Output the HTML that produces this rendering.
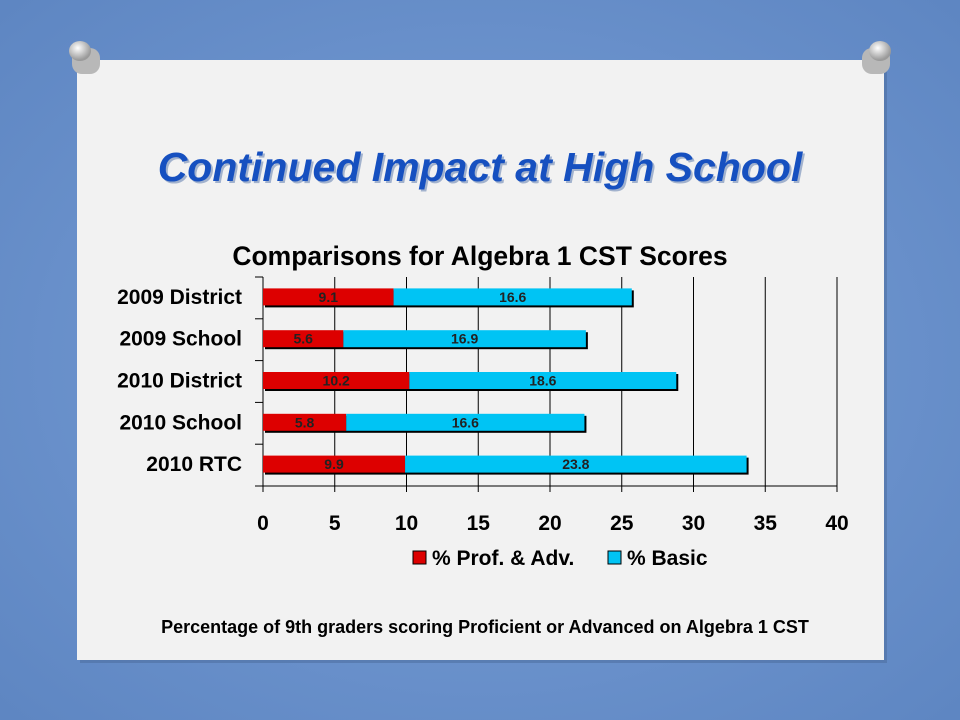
<!DOCTYPE html>
<html><head><meta charset="utf-8"><style>
body{margin:0;width:960px;height:720px;overflow:hidden;background:#6f95cf;font-family:"Liberation Sans",sans-serif;}
svg{display:block;}
</style></head><body>
<svg width="960" height="720" viewBox="0 0 960 720" xmlns="http://www.w3.org/2000/svg">
<defs>
<radialGradient id="bg" cx="50%" cy="50%" r="70%"><stop offset="0" stop-color="#7aa0d8"/><stop offset="1" stop-color="#5e86c2"/></radialGradient>
<radialGradient id="pin" cx="40%" cy="35%" r="60%"><stop offset="0" stop-color="#ffffff"/><stop offset="1" stop-color="#9a9a9a"/></radialGradient>
</defs>
<rect width="960" height="720" fill="url(#bg)"/>
<rect x="80" y="63" width="807" height="600" fill="#4a6a9a" opacity="0.5"/>
<rect x="77" y="60" width="807" height="600" fill="#f2f2f2"/>
<g><rect x="72" y="48" width="28" height="26" rx="10" fill="#b8b8b8"/><ellipse cx="80" cy="51" rx="11" ry="10" fill="url(#pin)"/></g>
<g><rect x="862" y="48" width="28" height="26" rx="10" fill="#b8b8b8"/><ellipse cx="880" cy="51" rx="11" ry="10" fill="url(#pin)"/></g>
<text x="482" y="183" text-anchor="middle" font-size="41" font-weight="bold" font-style="italic" fill="#0f3d8a" opacity="0.35">Continued Impact at High School</text>
<text x="480" y="181" text-anchor="middle" font-size="41" font-weight="bold" font-style="italic" fill="#1650c0">Continued Impact at High School</text>
<text x="480" y="265" text-anchor="middle" font-size="26.5" font-weight="bold" fill="#000">Comparisons for Algebra 1 CST Scores</text>
<g id="chart"></g>
<text x="485" y="633" text-anchor="middle" font-size="18" font-weight="bold" fill="#000">Percentage of 9th graders scoring Proficient or Advanced on Algebra 1 CST</text>
</svg>
<script>
const categories=["2009 District","2009 School","2010 District","2010 School","2010 RTC"];
const profAdv=[9.1,5.6,10.2,5.8,9.9];
const basic=[16.6,16.9,18.6,16.6,23.8];
const ticks=[0,5,10,15,20,25,30,35,40];
const ns="http://www.w3.org/2000/svg";
const g=document.getElementById('chart');
const x0=263,x1=837,yTop=277,yBot=486;
const xs=v=>x0+(v-0)/(40-0)*(x1-x0);
const band=(yBot-yTop)/categories.length;
function mk(t,a){const e=document.createElementNS(ns,t);for(const k in a)e.setAttribute(k,a[k]);g.appendChild(e);return e;}
ticks.forEach((t,i)=>{
 const l=mk('line',{x1:xs(t),x2:xs(t),y1:yTop,y2:yBot+6,stroke:'#000','stroke-width':1});
 
 
 const tx=mk('text',{x:xs(t),y:530,'text-anchor':'middle','font-size':21,'font-weight':'bold'});
 tx.textContent=t;
 
 
});
const ax=mk('line',{x1:x0-8,x2:x1,y1:yBot,y2:yBot,stroke:'#000'});


for(let i=0;i<=categories.length;i++){const tk=mk('line',{x1:x0-8,x2:x0,y1:yTop+i*band,y2:yTop+i*band,stroke:'#000'});
 
 }
categories.forEach((c,i)=>{
 const cy=yTop+band*(i+0.5)-1,h=17,y=cy-h/2;
 const tot=profAdv[i]+basic[i];
 const sh=mk('rect',{x:x0+2,y:y+2,width:xs(tot)-x0,height:h,fill:'#000'});
 
 
 const r=mk('rect',{x:x0,y:y,width:xs(profAdv[i])-x0,height:h,fill:'#dd0000'});
 
 
 const b=mk('rect',{x:xs(profAdv[i]),y:y,width:xs(tot)-xs(profAdv[i]),height:h,fill:'#00c4f4'});
 
 
 const t1=mk('text',{x:(x0+xs(profAdv[i]))/2,y:cy+5,'text-anchor':'middle','font-size':14,'font-weight':'bold',fill:'#222'});
 t1.textContent=profAdv[i].toFixed(1);
 
 
 const t2=mk('text',{x:(xs(profAdv[i])+xs(tot))/2,y:cy+5,'text-anchor':'middle','font-size':14,'font-weight':'bold',fill:'#222'});
 t2.textContent=basic[i].toFixed(1);
 
 
 const cl=mk('text',{x:242,y:cy+7,'text-anchor':'end','font-size':21,'font-weight':'bold'});
 cl.textContent=c;
 
 
});
const lg=[["% Prof. & Adv.","#dd0000",413],["% Basic","#00c4f4",608]];
lg.forEach((L,i)=>{
 const s=mk('rect',{x:L[2],y:551,width:13,height:13,fill:L[1],stroke:'#000'});
 
 
 const t=mk('text',{x:L[2]+19,y:565,'font-size':21,'font-weight':'bold'});
 t.textContent=L[0];
 
 
});
</script>
</body></html>
